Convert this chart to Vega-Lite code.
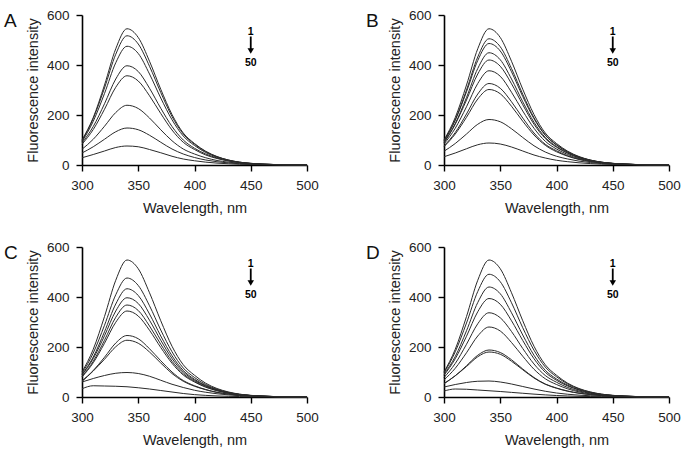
{
"$schema": "https://vega.github.io/schema/vega-lite/v6.json",
"padding": {"left": 4, "top": 8, "right": 5, "bottom": 5},
"background": "#ffffff",
"config": {
 "view": {"stroke": null},
 "font": "Liberation Sans",
 "axis": {"grid": false, "labelFlush": false, "domainColor": "#000", "domainWidth": 1.6, "tickColor": "#000", "tickWidth": 1.4, "tickSize": 6, "labelFontSize": 13.5, "labelColor": "#222", "titleFontSize": 14.5, "titleFontWeight": "normal", "titleColor": "#222", "labelPadding": 7},
 "title": {"fontSize": 19, "fontWeight": "normal", "anchor": "start", "frame": "group", "color": "#111", "offset": 0}
},
"datasets": {
"s": [
{"p":"A","c":1,"w":300,"v":100},{"p":"A","c":1,"w":310,"v":190},{"p":"A","c":1,"w":320,"v":320},{"p":"A","c":1,"w":330,"v":465},{"p":"A","c":1,"w":340,"v":545},{"p":"A","c":1,"w":350,"v":510},{"p":"A","c":1,"w":360,"v":415},{"p":"A","c":1,"w":370,"v":303},{"p":"A","c":1,"w":380,"v":202},{"p":"A","c":1,"w":390,"v":128},{"p":"A","c":1,"w":400,"v":86},{"p":"A","c":1,"w":410,"v":55},{"p":"A","c":1,"w":420,"v":34},{"p":"A","c":1,"w":430,"v":20},{"p":"A","c":1,"w":440,"v":11.4},{"p":"A","c":1,"w":450,"v":6.5},{"p":"A","c":1,"w":470,"v":2},{"p":"A","c":1,"w":500,"v":0.3},
{"p":"A","c":2,"w":300,"v":97},{"p":"A","c":2,"w":310,"v":186},{"p":"A","c":2,"w":320,"v":308},{"p":"A","c":2,"w":330,"v":443},{"p":"A","c":2,"w":340,"v":517},{"p":"A","c":2,"w":350,"v":484},{"p":"A","c":2,"w":360,"v":395},{"p":"A","c":2,"w":370,"v":290},{"p":"A","c":2,"w":380,"v":194},{"p":"A","c":2,"w":390,"v":124},{"p":"A","c":2,"w":400,"v":83},{"p":"A","c":2,"w":410,"v":53},{"p":"A","c":2,"w":420,"v":33},{"p":"A","c":2,"w":430,"v":20},{"p":"A","c":2,"w":440,"v":11.4},{"p":"A","c":2,"w":450,"v":6.7},{"p":"A","c":2,"w":470,"v":2.1},{"p":"A","c":2,"w":500,"v":0.4},
{"p":"A","c":3,"w":300,"v":93},{"p":"A","c":3,"w":310,"v":175},{"p":"A","c":3,"w":320,"v":286},{"p":"A","c":3,"w":330,"v":409},{"p":"A","c":3,"w":340,"v":475},{"p":"A","c":3,"w":350,"v":446},{"p":"A","c":3,"w":360,"v":364},{"p":"A","c":3,"w":370,"v":268},{"p":"A","c":3,"w":380,"v":181},{"p":"A","c":3,"w":390,"v":116},{"p":"A","c":3,"w":400,"v":78},{"p":"A","c":3,"w":410,"v":50},{"p":"A","c":3,"w":420,"v":31},{"p":"A","c":3,"w":430,"v":19},{"p":"A","c":3,"w":440,"v":10.9},{"p":"A","c":3,"w":450,"v":6.2},{"p":"A","c":3,"w":470,"v":2},{"p":"A","c":3,"w":500,"v":0.3},
{"p":"A","c":4,"w":300,"v":88},{"p":"A","c":4,"w":310,"v":154},{"p":"A","c":4,"w":320,"v":245},{"p":"A","c":4,"w":330,"v":344},{"p":"A","c":4,"w":340,"v":397},{"p":"A","c":4,"w":350,"v":374},{"p":"A","c":4,"w":360,"v":307},{"p":"A","c":4,"w":370,"v":227},{"p":"A","c":4,"w":380,"v":154},{"p":"A","c":4,"w":390,"v":100},{"p":"A","c":4,"w":400,"v":67},{"p":"A","c":4,"w":410,"v":44},{"p":"A","c":4,"w":420,"v":28},{"p":"A","c":4,"w":430,"v":17},{"p":"A","c":4,"w":440,"v":10},{"p":"A","c":4,"w":450,"v":6},{"p":"A","c":4,"w":470,"v":2},{"p":"A","c":4,"w":500,"v":0.4},
{"p":"A","c":5,"w":300,"v":83},{"p":"A","c":5,"w":310,"v":142},{"p":"A","c":5,"w":320,"v":223},{"p":"A","c":5,"w":330,"v":311},{"p":"A","c":5,"w":340,"v":357},{"p":"A","c":5,"w":350,"v":336},{"p":"A","c":5,"w":360,"v":277},{"p":"A","c":5,"w":370,"v":206},{"p":"A","c":5,"w":380,"v":140},{"p":"A","c":5,"w":390,"v":91},{"p":"A","c":5,"w":400,"v":62},{"p":"A","c":5,"w":410,"v":40},{"p":"A","c":5,"w":420,"v":26},{"p":"A","c":5,"w":430,"v":16},{"p":"A","c":5,"w":440,"v":9.3},{"p":"A","c":5,"w":450,"v":5.4},{"p":"A","c":5,"w":470,"v":1.9},{"p":"A","c":5,"w":500,"v":0.4},
{"p":"A","c":6,"w":300,"v":63},{"p":"A","c":6,"w":310,"v":103},{"p":"A","c":6,"w":320,"v":155},{"p":"A","c":6,"w":330,"v":210},{"p":"A","c":6,"w":340,"v":239},{"p":"A","c":6,"w":350,"v":226},{"p":"A","c":6,"w":360,"v":188},{"p":"A","c":6,"w":370,"v":141},{"p":"A","c":6,"w":380,"v":97},{"p":"A","c":6,"w":390,"v":64},{"p":"A","c":6,"w":400,"v":44},{"p":"A","c":6,"w":410,"v":29},{"p":"A","c":6,"w":420,"v":18},{"p":"A","c":6,"w":430,"v":11.5},{"p":"A","c":6,"w":440,"v":6.9},{"p":"A","c":6,"w":450,"v":4.1},{"p":"A","c":6,"w":470,"v":1.5},{"p":"A","c":6,"w":500,"v":0.3},
{"p":"A","c":7,"w":300,"v":48},{"p":"A","c":7,"w":310,"v":73},{"p":"A","c":7,"w":320,"v":103},{"p":"A","c":7,"w":330,"v":133},{"p":"A","c":7,"w":340,"v":148},{"p":"A","c":7,"w":350,"v":141},{"p":"A","c":7,"w":360,"v":119},{"p":"A","c":7,"w":370,"v":91},{"p":"A","c":7,"w":380,"v":64},{"p":"A","c":7,"w":390,"v":44},{"p":"A","c":7,"w":400,"v":30},{"p":"A","c":7,"w":410,"v":20},{"p":"A","c":7,"w":420,"v":13},{"p":"A","c":7,"w":430,"v":8.4},{"p":"A","c":7,"w":440,"v":5},{"p":"A","c":7,"w":450,"v":3.1},{"p":"A","c":7,"w":470,"v":1.2},{"p":"A","c":7,"w":500,"v":0.2},
{"p":"A","c":8,"w":300,"v":29},{"p":"A","c":8,"w":310,"v":42},{"p":"A","c":8,"w":320,"v":56},{"p":"A","c":8,"w":330,"v":70},{"p":"A","c":8,"w":340,"v":76},{"p":"A","c":8,"w":350,"v":73},{"p":"A","c":8,"w":360,"v":62},{"p":"A","c":8,"w":370,"v":49},{"p":"A","c":8,"w":380,"v":35},{"p":"A","c":8,"w":390,"v":24},{"p":"A","c":8,"w":400,"v":17},{"p":"A","c":8,"w":410,"v":11.4},{"p":"A","c":8,"w":420,"v":7.6},{"p":"A","c":8,"w":430,"v":4.9},{"p":"A","c":8,"w":440,"v":3},{"p":"A","c":8,"w":450,"v":1.9},{"p":"A","c":8,"w":470,"v":0.8},{"p":"A","c":8,"w":500,"v":0.2},

{"p":"B","c":1,"w":300,"v":100},{"p":"B","c":1,"w":310,"v":190},{"p":"B","c":1,"w":320,"v":320},{"p":"B","c":1,"w":330,"v":465},{"p":"B","c":1,"w":340,"v":545},{"p":"B","c":1,"w":350,"v":510},{"p":"B","c":1,"w":360,"v":415},{"p":"B","c":1,"w":370,"v":303},{"p":"B","c":1,"w":380,"v":202},{"p":"B","c":1,"w":390,"v":128},{"p":"B","c":1,"w":400,"v":86},{"p":"B","c":1,"w":410,"v":55},{"p":"B","c":1,"w":420,"v":34},{"p":"B","c":1,"w":430,"v":20},{"p":"B","c":1,"w":440,"v":11.4},{"p":"B","c":1,"w":450,"v":6.5},{"p":"B","c":1,"w":470,"v":2},{"p":"B","c":1,"w":500,"v":0.3},
{"p":"B","c":2,"w":300,"v":97},{"p":"B","c":2,"w":310,"v":181},{"p":"B","c":2,"w":320,"v":300},{"p":"B","c":2,"w":330,"v":432},{"p":"B","c":2,"w":340,"v":505},{"p":"B","c":2,"w":350,"v":473},{"p":"B","c":2,"w":360,"v":386},{"p":"B","c":2,"w":370,"v":283},{"p":"B","c":2,"w":380,"v":189},{"p":"B","c":2,"w":390,"v":121},{"p":"B","c":2,"w":400,"v":81},{"p":"B","c":2,"w":410,"v":52},{"p":"B","c":2,"w":420,"v":32},{"p":"B","c":2,"w":430,"v":19.2},{"p":"B","c":2,"w":440,"v":11.1},{"p":"B","c":2,"w":450,"v":6.6},{"p":"B","c":2,"w":470,"v":2},{"p":"B","c":2,"w":500,"v":0.4},
{"p":"B","c":3,"w":300,"v":95},{"p":"B","c":3,"w":310,"v":179},{"p":"B","c":3,"w":320,"v":293},{"p":"B","c":3,"w":330,"v":418},{"p":"B","c":3,"w":340,"v":486},{"p":"B","c":3,"w":350,"v":456},{"p":"B","c":3,"w":360,"v":373},{"p":"B","c":3,"w":370,"v":274},{"p":"B","c":3,"w":380,"v":185},{"p":"B","c":3,"w":390,"v":119},{"p":"B","c":3,"w":400,"v":80},{"p":"B","c":3,"w":410,"v":52},{"p":"B","c":3,"w":420,"v":32},{"p":"B","c":3,"w":430,"v":19.4},{"p":"B","c":3,"w":440,"v":11.2},{"p":"B","c":3,"w":450,"v":6.3},{"p":"B","c":3,"w":470,"v":2.1},{"p":"B","c":3,"w":500,"v":0.3},
{"p":"B","c":4,"w":300,"v":91},{"p":"B","c":4,"w":310,"v":166},{"p":"B","c":4,"w":320,"v":270},{"p":"B","c":4,"w":330,"v":386},{"p":"B","c":4,"w":340,"v":449},{"p":"B","c":4,"w":350,"v":421},{"p":"B","c":4,"w":360,"v":344},{"p":"B","c":4,"w":370,"v":253},{"p":"B","c":4,"w":380,"v":171},{"p":"B","c":4,"w":390,"v":110},{"p":"B","c":4,"w":400,"v":74},{"p":"B","c":4,"w":410,"v":48},{"p":"B","c":4,"w":420,"v":30},{"p":"B","c":4,"w":430,"v":18},{"p":"B","c":4,"w":440,"v":10.3},{"p":"B","c":4,"w":450,"v":5.8},{"p":"B","c":4,"w":470,"v":1.9},{"p":"B","c":4,"w":500,"v":0.3},
{"p":"B","c":5,"w":300,"v":88},{"p":"B","c":5,"w":310,"v":163},{"p":"B","c":5,"w":320,"v":260},{"p":"B","c":5,"w":330,"v":364},{"p":"B","c":5,"w":340,"v":420},{"p":"B","c":5,"w":350,"v":395},{"p":"B","c":5,"w":360,"v":325},{"p":"B","c":5,"w":370,"v":241},{"p":"B","c":5,"w":380,"v":163},{"p":"B","c":5,"w":390,"v":106},{"p":"B","c":5,"w":400,"v":71},{"p":"B","c":5,"w":410,"v":47},{"p":"B","c":5,"w":420,"v":29},{"p":"B","c":5,"w":430,"v":18.1},{"p":"B","c":5,"w":440,"v":10.5},{"p":"B","c":5,"w":450,"v":6.3},{"p":"B","c":5,"w":470,"v":2.1},{"p":"B","c":5,"w":500,"v":0.4},
{"p":"B","c":6,"w":300,"v":84},{"p":"B","c":6,"w":310,"v":147},{"p":"B","c":6,"w":320,"v":233},{"p":"B","c":6,"w":330,"v":326},{"p":"B","c":6,"w":340,"v":377},{"p":"B","c":6,"w":350,"v":355},{"p":"B","c":6,"w":360,"v":291},{"p":"B","c":6,"w":370,"v":216},{"p":"B","c":6,"w":380,"v":147},{"p":"B","c":6,"w":390,"v":95},{"p":"B","c":6,"w":400,"v":64},{"p":"B","c":6,"w":410,"v":42},{"p":"B","c":6,"w":420,"v":26},{"p":"B","c":6,"w":430,"v":16.2},{"p":"B","c":6,"w":440,"v":9.4},{"p":"B","c":6,"w":450,"v":5.7},{"p":"B","c":6,"w":470,"v":1.9},{"p":"B","c":6,"w":500,"v":0.3},
{"p":"B","c":7,"w":300,"v":76},{"p":"B","c":7,"w":310,"v":130},{"p":"B","c":7,"w":320,"v":204},{"p":"B","c":7,"w":330,"v":284},{"p":"B","c":7,"w":340,"v":326},{"p":"B","c":7,"w":350,"v":307},{"p":"B","c":7,"w":360,"v":253},{"p":"B","c":7,"w":370,"v":188},{"p":"B","c":7,"w":380,"v":128},{"p":"B","c":7,"w":390,"v":83},{"p":"B","c":7,"w":400,"v":57},{"p":"B","c":7,"w":410,"v":37},{"p":"B","c":7,"w":420,"v":23.5},{"p":"B","c":7,"w":430,"v":14.3},{"p":"B","c":7,"w":440,"v":8.5},{"p":"B","c":7,"w":450,"v":4.9},{"p":"B","c":7,"w":470,"v":1.7},{"p":"B","c":7,"w":500,"v":0.3},
{"p":"B","c":8,"w":300,"v":73},{"p":"B","c":8,"w":310,"v":124},{"p":"B","c":8,"w":320,"v":191},{"p":"B","c":8,"w":330,"v":264},{"p":"B","c":8,"w":340,"v":302},{"p":"B","c":8,"w":350,"v":285},{"p":"B","c":8,"w":360,"v":235},{"p":"B","c":8,"w":370,"v":175},{"p":"B","c":8,"w":380,"v":120},{"p":"B","c":8,"w":390,"v":79},{"p":"B","c":8,"w":400,"v":53},{"p":"B","c":8,"w":410,"v":35},{"p":"B","c":8,"w":420,"v":22},{"p":"B","c":8,"w":430,"v":13.6},{"p":"B","c":8,"w":440,"v":8.2},{"p":"B","c":8,"w":450,"v":4.8},{"p":"B","c":8,"w":470,"v":1.7},{"p":"B","c":8,"w":500,"v":0.3},
{"p":"B","c":9,"w":300,"v":55},{"p":"B","c":9,"w":310,"v":86},{"p":"B","c":9,"w":320,"v":124},{"p":"B","c":9,"w":330,"v":163},{"p":"B","c":9,"w":340,"v":182},{"p":"B","c":9,"w":350,"v":173},{"p":"B","c":9,"w":360,"v":145},{"p":"B","c":9,"w":370,"v":110},{"p":"B","c":9,"w":380,"v":77},{"p":"B","c":9,"w":390,"v":52},{"p":"B","c":9,"w":400,"v":35},{"p":"B","c":9,"w":410,"v":24},{"p":"B","c":9,"w":420,"v":15.5},{"p":"B","c":9,"w":430,"v":9.8},{"p":"B","c":9,"w":440,"v":5.8},{"p":"B","c":9,"w":450,"v":3.6},{"p":"B","c":9,"w":470,"v":1.4},{"p":"B","c":9,"w":500,"v":0.3},
{"p":"B","c":10,"w":300,"v":33},{"p":"B","c":10,"w":310,"v":48},{"p":"B","c":10,"w":320,"v":65},{"p":"B","c":10,"w":330,"v":81},{"p":"B","c":10,"w":340,"v":88},{"p":"B","c":10,"w":350,"v":84},{"p":"B","c":10,"w":360,"v":72},{"p":"B","c":10,"w":370,"v":56},{"p":"B","c":10,"w":380,"v":40},{"p":"B","c":10,"w":390,"v":28},{"p":"B","c":10,"w":400,"v":19},{"p":"B","c":10,"w":410,"v":13.2},{"p":"B","c":10,"w":420,"v":8.8},{"p":"B","c":10,"w":430,"v":5.7},{"p":"B","c":10,"w":440,"v":3.5},{"p":"B","c":10,"w":450,"v":2.2},{"p":"B","c":10,"w":470,"v":0.9},{"p":"B","c":10,"w":500,"v":0.2},

{"p":"C","c":1,"w":300,"v":100},{"p":"C","c":1,"w":310,"v":191},{"p":"C","c":1,"w":320,"v":322},{"p":"C","c":1,"w":330,"v":467},{"p":"C","c":1,"w":340,"v":548},{"p":"C","c":1,"w":350,"v":513},{"p":"C","c":1,"w":360,"v":417},{"p":"C","c":1,"w":370,"v":305},{"p":"C","c":1,"w":380,"v":203},{"p":"C","c":1,"w":390,"v":129},{"p":"C","c":1,"w":400,"v":87},{"p":"C","c":1,"w":410,"v":55},{"p":"C","c":1,"w":420,"v":34},{"p":"C","c":1,"w":430,"v":20.3},{"p":"C","c":1,"w":440,"v":11.5},{"p":"C","c":1,"w":450,"v":6.6},{"p":"C","c":1,"w":470,"v":2},{"p":"C","c":1,"w":500,"v":0.3},
{"p":"C","c":2,"w":300,"v":95},{"p":"C","c":2,"w":310,"v":176},{"p":"C","c":2,"w":320,"v":287},{"p":"C","c":2,"w":330,"v":409},{"p":"C","c":2,"w":340,"v":476},{"p":"C","c":2,"w":350,"v":446},{"p":"C","c":2,"w":360,"v":365},{"p":"C","c":2,"w":370,"v":268},{"p":"C","c":2,"w":380,"v":181},{"p":"C","c":2,"w":390,"v":116},{"p":"C","c":2,"w":400,"v":78},{"p":"C","c":2,"w":410,"v":50},{"p":"C","c":2,"w":420,"v":31},{"p":"C","c":2,"w":430,"v":19},{"p":"C","c":2,"w":440,"v":10.9},{"p":"C","c":2,"w":450,"v":6.2},{"p":"C","c":2,"w":470,"v":2},{"p":"C","c":2,"w":500,"v":0.3},
{"p":"C","c":3,"w":300,"v":90},{"p":"C","c":3,"w":310,"v":160},{"p":"C","c":3,"w":320,"v":261},{"p":"C","c":3,"w":330,"v":372},{"p":"C","c":3,"w":340,"v":433},{"p":"C","c":3,"w":350,"v":406},{"p":"C","c":3,"w":360,"v":332},{"p":"C","c":3,"w":370,"v":244},{"p":"C","c":3,"w":380,"v":165},{"p":"C","c":3,"w":390,"v":106},{"p":"C","c":3,"w":400,"v":71},{"p":"C","c":3,"w":410,"v":46},{"p":"C","c":3,"w":420,"v":29},{"p":"C","c":3,"w":430,"v":17.3},{"p":"C","c":3,"w":440,"v":10},{"p":"C","c":3,"w":450,"v":5.6},{"p":"C","c":3,"w":470,"v":1.9},{"p":"C","c":3,"w":500,"v":0.3},
{"p":"C","c":4,"w":300,"v":88},{"p":"C","c":4,"w":310,"v":154},{"p":"C","c":4,"w":320,"v":245},{"p":"C","c":4,"w":330,"v":344},{"p":"C","c":4,"w":340,"v":397},{"p":"C","c":4,"w":350,"v":374},{"p":"C","c":4,"w":360,"v":307},{"p":"C","c":4,"w":370,"v":227},{"p":"C","c":4,"w":380,"v":154},{"p":"C","c":4,"w":390,"v":100},{"p":"C","c":4,"w":400,"v":67},{"p":"C","c":4,"w":410,"v":44},{"p":"C","c":4,"w":420,"v":28},{"p":"C","c":4,"w":430,"v":17},{"p":"C","c":4,"w":440,"v":10},{"p":"C","c":4,"w":450,"v":6},{"p":"C","c":4,"w":470,"v":2},{"p":"C","c":4,"w":500,"v":0.4},
{"p":"C","c":5,"w":300,"v":82},{"p":"C","c":5,"w":310,"v":143},{"p":"C","c":5,"w":320,"v":227},{"p":"C","c":5,"w":330,"v":319},{"p":"C","c":5,"w":340,"v":368},{"p":"C","c":5,"w":350,"v":346},{"p":"C","c":5,"w":360,"v":284},{"p":"C","c":5,"w":370,"v":211},{"p":"C","c":5,"w":380,"v":143},{"p":"C","c":5,"w":390,"v":93},{"p":"C","c":5,"w":400,"v":63},{"p":"C","c":5,"w":410,"v":41},{"p":"C","c":5,"w":420,"v":26},{"p":"C","c":5,"w":430,"v":15.8},{"p":"C","c":5,"w":440,"v":9.2},{"p":"C","c":5,"w":450,"v":5.5},{"p":"C","c":5,"w":470,"v":1.8},{"p":"C","c":5,"w":500,"v":0.3},
{"p":"C","c":6,"w":300,"v":80},{"p":"C","c":6,"w":310,"v":137},{"p":"C","c":6,"w":320,"v":215},{"p":"C","c":6,"w":330,"v":299},{"p":"C","c":6,"w":340,"v":344},{"p":"C","c":6,"w":350,"v":324},{"p":"C","c":6,"w":360,"v":267},{"p":"C","c":6,"w":370,"v":198},{"p":"C","c":6,"w":380,"v":135},{"p":"C","c":6,"w":390,"v":88},{"p":"C","c":6,"w":400,"v":60},{"p":"C","c":6,"w":410,"v":39},{"p":"C","c":6,"w":420,"v":25},{"p":"C","c":6,"w":430,"v":15.1},{"p":"C","c":6,"w":440,"v":8.9},{"p":"C","c":6,"w":450,"v":5.2},{"p":"C","c":6,"w":470,"v":1.8},{"p":"C","c":6,"w":500,"v":0.3},
{"p":"C","c":7,"w":300,"v":65},{"p":"C","c":7,"w":310,"v":106},{"p":"C","c":7,"w":320,"v":159},{"p":"C","c":7,"w":330,"v":216},{"p":"C","c":7,"w":340,"v":246},{"p":"C","c":7,"w":350,"v":233},{"p":"C","c":7,"w":360,"v":193},{"p":"C","c":7,"w":370,"v":145},{"p":"C","c":7,"w":380,"v":100},{"p":"C","c":7,"w":390,"v":66},{"p":"C","c":7,"w":400,"v":45},{"p":"C","c":7,"w":410,"v":30},{"p":"C","c":7,"w":420,"v":19},{"p":"C","c":7,"w":430,"v":11.8},{"p":"C","c":7,"w":440,"v":7.1},{"p":"C","c":7,"w":450,"v":4.2},{"p":"C","c":7,"w":470,"v":1.5},{"p":"C","c":7,"w":500,"v":0.3},
{"p":"C","c":8,"w":300,"v":62},{"p":"C","c":8,"w":310,"v":104},{"p":"C","c":8,"w":320,"v":151},{"p":"C","c":8,"w":330,"v":201},{"p":"C","c":8,"w":340,"v":227},{"p":"C","c":8,"w":350,"v":215},{"p":"C","c":8,"w":360,"v":180},{"p":"C","c":8,"w":370,"v":136},{"p":"C","c":8,"w":380,"v":94},{"p":"C","c":8,"w":390,"v":63},{"p":"C","c":8,"w":400,"v":43},{"p":"C","c":8,"w":410,"v":29},{"p":"C","c":8,"w":420,"v":18},{"p":"C","c":8,"w":430,"v":11.6},{"p":"C","c":8,"w":440,"v":7},{"p":"C","c":8,"w":450,"v":4.3},{"p":"C","c":8,"w":470,"v":1.6},{"p":"C","c":8,"w":500,"v":0.3},
{"p":"C","c":9,"w":300,"v":60},{"p":"C","c":9,"w":310,"v":74},{"p":"C","c":9,"w":320,"v":86},{"p":"C","c":9,"w":330,"v":95},{"p":"C","c":9,"w":340,"v":98},{"p":"C","c":9,"w":350,"v":94},{"p":"C","c":9,"w":360,"v":83},{"p":"C","c":9,"w":370,"v":67},{"p":"C","c":9,"w":380,"v":51},{"p":"C","c":9,"w":390,"v":38},{"p":"C","c":9,"w":400,"v":27},{"p":"C","c":9,"w":410,"v":19},{"p":"C","c":9,"w":420,"v":13},{"p":"C","c":9,"w":430,"v":8.5},{"p":"C","c":9,"w":440,"v":5.5},{"p":"C","c":9,"w":450,"v":3.5},{"p":"C","c":9,"w":470,"v":1.3},{"p":"C","c":9,"w":500,"v":0.3},
{"p":"C","c":10,"w":300,"v":33},{"p":"C","c":10,"w":310,"v":45},{"p":"C","c":10,"w":320,"v":44},{"p":"C","c":10,"w":330,"v":43},{"p":"C","c":10,"w":340,"v":41},{"p":"C","c":10,"w":350,"v":37},{"p":"C","c":10,"w":360,"v":32},{"p":"C","c":10,"w":370,"v":26},{"p":"C","c":10,"w":380,"v":20},{"p":"C","c":10,"w":390,"v":14},{"p":"C","c":10,"w":400,"v":9.5},{"p":"C","c":10,"w":410,"v":6.5},{"p":"C","c":10,"w":420,"v":4.3},{"p":"C","c":10,"w":430,"v":2.8},{"p":"C","c":10,"w":440,"v":1.8},{"p":"C","c":10,"w":450,"v":1.1},{"p":"C","c":10,"w":470,"v":0.4},{"p":"C","c":10,"w":500,"v":0.1},

{"p":"D","c":1,"w":300,"v":100},{"p":"D","c":1,"w":310,"v":191},{"p":"D","c":1,"w":320,"v":322},{"p":"D","c":1,"w":330,"v":467},{"p":"D","c":1,"w":340,"v":548},{"p":"D","c":1,"w":350,"v":513},{"p":"D","c":1,"w":360,"v":417},{"p":"D","c":1,"w":370,"v":305},{"p":"D","c":1,"w":380,"v":203},{"p":"D","c":1,"w":390,"v":129},{"p":"D","c":1,"w":400,"v":87},{"p":"D","c":1,"w":410,"v":55},{"p":"D","c":1,"w":420,"v":34},{"p":"D","c":1,"w":430,"v":20.3},{"p":"D","c":1,"w":440,"v":11.5},{"p":"D","c":1,"w":450,"v":6.6},{"p":"D","c":1,"w":470,"v":2},{"p":"D","c":1,"w":500,"v":0.3},
{"p":"D","c":2,"w":300,"v":96},{"p":"D","c":2,"w":310,"v":181},{"p":"D","c":2,"w":320,"v":296},{"p":"D","c":2,"w":330,"v":422},{"p":"D","c":2,"w":340,"v":491},{"p":"D","c":2,"w":350,"v":461},{"p":"D","c":2,"w":360,"v":377},{"p":"D","c":2,"w":370,"v":277},{"p":"D","c":2,"w":380,"v":187},{"p":"D","c":2,"w":390,"v":120},{"p":"D","c":2,"w":400,"v":81},{"p":"D","c":2,"w":410,"v":52},{"p":"D","c":2,"w":420,"v":32},{"p":"D","c":2,"w":430,"v":19.6},{"p":"D","c":2,"w":440,"v":11.3},{"p":"D","c":2,"w":450,"v":6.4},{"p":"D","c":2,"w":470,"v":2.1},{"p":"D","c":2,"w":500,"v":0.3},
{"p":"D","c":3,"w":300,"v":91},{"p":"D","c":3,"w":310,"v":162},{"p":"D","c":3,"w":320,"v":265},{"p":"D","c":3,"w":330,"v":378},{"p":"D","c":3,"w":340,"v":440},{"p":"D","c":3,"w":350,"v":413},{"p":"D","c":3,"w":360,"v":337},{"p":"D","c":3,"w":370,"v":248},{"p":"D","c":3,"w":380,"v":167},{"p":"D","c":3,"w":390,"v":107},{"p":"D","c":3,"w":400,"v":72},{"p":"D","c":3,"w":410,"v":47},{"p":"D","c":3,"w":420,"v":29},{"p":"D","c":3,"w":430,"v":17.6},{"p":"D","c":3,"w":440,"v":10.1},{"p":"D","c":3,"w":450,"v":5.7},{"p":"D","c":3,"w":470,"v":1.9},{"p":"D","c":3,"w":500,"v":0.3},
{"p":"D","c":4,"w":300,"v":87},{"p":"D","c":4,"w":310,"v":153},{"p":"D","c":4,"w":320,"v":243},{"p":"D","c":4,"w":330,"v":341},{"p":"D","c":4,"w":340,"v":394},{"p":"D","c":4,"w":350,"v":371},{"p":"D","c":4,"w":360,"v":305},{"p":"D","c":4,"w":370,"v":226},{"p":"D","c":4,"w":380,"v":153},{"p":"D","c":4,"w":390,"v":99},{"p":"D","c":4,"w":400,"v":67},{"p":"D","c":4,"w":410,"v":44},{"p":"D","c":4,"w":420,"v":28},{"p":"D","c":4,"w":430,"v":16.9},{"p":"D","c":4,"w":440,"v":9.9},{"p":"D","c":4,"w":450,"v":5.9},{"p":"D","c":4,"w":470,"v":2},{"p":"D","c":4,"w":500,"v":0.4},
{"p":"D","c":5,"w":300,"v":78},{"p":"D","c":5,"w":310,"v":134},{"p":"D","c":5,"w":320,"v":211},{"p":"D","c":5,"w":330,"v":293},{"p":"D","c":5,"w":340,"v":337},{"p":"D","c":5,"w":350,"v":317},{"p":"D","c":5,"w":360,"v":262},{"p":"D","c":5,"w":370,"v":194},{"p":"D","c":5,"w":380,"v":132},{"p":"D","c":5,"w":390,"v":86},{"p":"D","c":5,"w":400,"v":59},{"p":"D","c":5,"w":410,"v":38},{"p":"D","c":5,"w":420,"v":24},{"p":"D","c":5,"w":430,"v":14.8},{"p":"D","c":5,"w":440,"v":8.8},{"p":"D","c":5,"w":450,"v":5.1},{"p":"D","c":5,"w":470,"v":1.8},{"p":"D","c":5,"w":500,"v":0.3},
{"p":"D","c":6,"w":300,"v":68},{"p":"D","c":6,"w":310,"v":115},{"p":"D","c":6,"w":320,"v":177},{"p":"D","c":6,"w":330,"v":244},{"p":"D","c":6,"w":340,"v":280},{"p":"D","c":6,"w":350,"v":264},{"p":"D","c":6,"w":360,"v":218},{"p":"D","c":6,"w":370,"v":163},{"p":"D","c":6,"w":380,"v":111},{"p":"D","c":6,"w":390,"v":73},{"p":"D","c":6,"w":400,"v":50},{"p":"D","c":6,"w":410,"v":32.5},{"p":"D","c":6,"w":420,"v":20.4},{"p":"D","c":6,"w":430,"v":12.6},{"p":"D","c":6,"w":440,"v":7.6},{"p":"D","c":6,"w":450,"v":4.5},{"p":"D","c":6,"w":470,"v":1.6},{"p":"D","c":6,"w":500,"v":0.3},
{"p":"D","c":7,"w":300,"v":53},{"p":"D","c":7,"w":310,"v":85},{"p":"D","c":7,"w":320,"v":125},{"p":"D","c":7,"w":330,"v":167},{"p":"D","c":7,"w":340,"v":188},{"p":"D","c":7,"w":350,"v":178},{"p":"D","c":7,"w":360,"v":149},{"p":"D","c":7,"w":370,"v":112},{"p":"D","c":7,"w":380,"v":78},{"p":"D","c":7,"w":390,"v":52},{"p":"D","c":7,"w":400,"v":36},{"p":"D","c":7,"w":410,"v":24},{"p":"D","c":7,"w":420,"v":15.2},{"p":"D","c":7,"w":430,"v":9.6},{"p":"D","c":7,"w":440,"v":5.8},{"p":"D","c":7,"w":450,"v":3.6},{"p":"D","c":7,"w":470,"v":1.3},{"p":"D","c":7,"w":500,"v":0.2},
{"p":"D","c":8,"w":300,"v":54},{"p":"D","c":8,"w":310,"v":85},{"p":"D","c":8,"w":320,"v":122},{"p":"D","c":8,"w":330,"v":161},{"p":"D","c":8,"w":340,"v":180},{"p":"D","c":8,"w":350,"v":171},{"p":"D","c":8,"w":360,"v":143},{"p":"D","c":8,"w":370,"v":109},{"p":"D","c":8,"w":380,"v":76},{"p":"D","c":8,"w":390,"v":51},{"p":"D","c":8,"w":400,"v":35},{"p":"D","c":8,"w":410,"v":23},{"p":"D","c":8,"w":420,"v":15.3},{"p":"D","c":8,"w":430,"v":9.7},{"p":"D","c":8,"w":440,"v":5.8},{"p":"D","c":8,"w":450,"v":3.6},{"p":"D","c":8,"w":470,"v":1.4},{"p":"D","c":8,"w":500,"v":0.3},
{"p":"D","c":9,"w":300,"v":40},{"p":"D","c":9,"w":310,"v":50},{"p":"D","c":9,"w":320,"v":58},{"p":"D","c":9,"w":330,"v":63},{"p":"D","c":9,"w":340,"v":64},{"p":"D","c":9,"w":350,"v":60},{"p":"D","c":9,"w":360,"v":52},{"p":"D","c":9,"w":370,"v":42},{"p":"D","c":9,"w":380,"v":32},{"p":"D","c":9,"w":390,"v":23},{"p":"D","c":9,"w":400,"v":16},{"p":"D","c":9,"w":410,"v":11},{"p":"D","c":9,"w":420,"v":7.5},{"p":"D","c":9,"w":430,"v":5},{"p":"D","c":9,"w":440,"v":3.2},{"p":"D","c":9,"w":450,"v":2},{"p":"D","c":9,"w":470,"v":0.8},{"p":"D","c":9,"w":500,"v":0.2},
{"p":"D","c":10,"w":300,"v":24},{"p":"D","c":10,"w":310,"v":32},{"p":"D","c":10,"w":320,"v":31},{"p":"D","c":10,"w":330,"v":28},{"p":"D","c":10,"w":340,"v":25},{"p":"D","c":10,"w":350,"v":22},{"p":"D","c":10,"w":360,"v":18.5},{"p":"D","c":10,"w":370,"v":15},{"p":"D","c":10,"w":380,"v":11.5},{"p":"D","c":10,"w":390,"v":8.5},{"p":"D","c":10,"w":400,"v":6},{"p":"D","c":10,"w":410,"v":4},{"p":"D","c":10,"w":420,"v":2.7},{"p":"D","c":10,"w":430,"v":1.8},{"p":"D","c":10,"w":440,"v":1.1},{"p":"D","c":10,"w":450,"v":0.7},{"p":"D","c":10,"w":470,"v":0.3},{"p":"D","c":10,"w":500,"v":0.1}
]
},
"columns": 2,
"spacing": {"row": 25, "column": 47},
"concat": [
{"title": {"text": "A", "dx": -78, "dy": 27},
 "width": 225, "height": 150,
 "layer": [
  {"data": {"name": "s"}, "transform": [{"filter": "datum.p === 'A'"}],
   "mark": {"type": "line", "interpolate": "monotone", "color": "#2a2a2a", "strokeWidth": 1},
   "encoding": {
    "x": {"field": "w", "type": "quantitative", "scale": {"domain": [300, 500], "nice": false}, "axis": {"values": [300, 350, 400, 450, 500], "title": "Wavelength, nm", "titlePadding": 10}},
    "y": {"field": "v", "type": "quantitative", "scale": {"domain": [0, 600], "nice": false}, "axis": {"values": [0, 200, 400, 600], "title": "Fluorescence intensity", "titlePadding": 6}},
    "detail": {"field": "c", "type": "nominal"}}},
  {"data": {"values": [{}]}, "mark": {"type": "rule", "color": "#000", "strokeWidth": 1.8}, "encoding": {"x": {"datum": 450}, "y": {"datum": 514}, "y2": {"datum": 462}}},
  {"data": {"values": [{}]}, "mark": {"type": "point", "shape": "triangle-down", "filled": true, "color": "#000", "size": 42, "opacity": 1}, "encoding": {"x": {"datum": 450}, "y": {"datum": 456}}},
  {"data": {"values": [{}]}, "mark": {"type": "text", "fontSize": 10.5, "fontWeight": "bold", "color": "#000"}, "encoding": {"x": {"datum": 450}, "y": {"datum": 533}, "text": {"value": "1"}}},
  {"data": {"values": [{}]}, "mark": {"type": "text", "fontSize": 10.5, "fontWeight": "bold", "color": "#000"}, "encoding": {"x": {"datum": 450}, "y": {"datum": 408}, "text": {"value": "50"}}}
 ]},
{"title": {"text": "B", "dx": -78, "dy": 27},
 "width": 225, "height": 150,
 "layer": [
  {"data": {"name": "s"}, "transform": [{"filter": "datum.p === 'B'"}],
   "mark": {"type": "line", "interpolate": "monotone", "color": "#2a2a2a", "strokeWidth": 1},
   "encoding": {
    "x": {"field": "w", "type": "quantitative", "scale": {"domain": [300, 500], "nice": false}, "axis": {"values": [300, 350, 400, 450, 500], "title": "Wavelength, nm", "titlePadding": 10}},
    "y": {"field": "v", "type": "quantitative", "scale": {"domain": [0, 600], "nice": false}, "axis": {"values": [0, 200, 400, 600], "title": "Fluorescence intensity", "titlePadding": 6}},
    "detail": {"field": "c", "type": "nominal"}}},
  {"data": {"values": [{}]}, "mark": {"type": "rule", "color": "#000", "strokeWidth": 1.8}, "encoding": {"x": {"datum": 450}, "y": {"datum": 514}, "y2": {"datum": 462}}},
  {"data": {"values": [{}]}, "mark": {"type": "point", "shape": "triangle-down", "filled": true, "color": "#000", "size": 42, "opacity": 1}, "encoding": {"x": {"datum": 450}, "y": {"datum": 456}}},
  {"data": {"values": [{}]}, "mark": {"type": "text", "fontSize": 10.5, "fontWeight": "bold", "color": "#000"}, "encoding": {"x": {"datum": 450}, "y": {"datum": 533}, "text": {"value": "1"}}},
  {"data": {"values": [{}]}, "mark": {"type": "text", "fontSize": 10.5, "fontWeight": "bold", "color": "#000"}, "encoding": {"x": {"datum": 450}, "y": {"datum": 408}, "text": {"value": "50"}}}
 ]},
{"title": {"text": "C", "dx": -78, "dy": 27},
 "width": 225, "height": 150,
 "layer": [
  {"data": {"name": "s"}, "transform": [{"filter": "datum.p === 'C'"}],
   "mark": {"type": "line", "interpolate": "monotone", "color": "#2a2a2a", "strokeWidth": 1},
   "encoding": {
    "x": {"field": "w", "type": "quantitative", "scale": {"domain": [300, 500], "nice": false}, "axis": {"values": [300, 350, 400, 450, 500], "title": "Wavelength, nm", "titlePadding": 10}},
    "y": {"field": "v", "type": "quantitative", "scale": {"domain": [0, 600], "nice": false}, "axis": {"values": [0, 200, 400, 600], "title": "Fluorescence intensity", "titlePadding": 6}},
    "detail": {"field": "c", "type": "nominal"}}},
  {"data": {"values": [{}]}, "mark": {"type": "rule", "color": "#000", "strokeWidth": 1.8}, "encoding": {"x": {"datum": 450}, "y": {"datum": 514}, "y2": {"datum": 462}}},
  {"data": {"values": [{}]}, "mark": {"type": "point", "shape": "triangle-down", "filled": true, "color": "#000", "size": 42, "opacity": 1}, "encoding": {"x": {"datum": 450}, "y": {"datum": 456}}},
  {"data": {"values": [{}]}, "mark": {"type": "text", "fontSize": 10.5, "fontWeight": "bold", "color": "#000"}, "encoding": {"x": {"datum": 450}, "y": {"datum": 533}, "text": {"value": "1"}}},
  {"data": {"values": [{}]}, "mark": {"type": "text", "fontSize": 10.5, "fontWeight": "bold", "color": "#000"}, "encoding": {"x": {"datum": 450}, "y": {"datum": 408}, "text": {"value": "50"}}}
 ]},
{"title": {"text": "D", "dx": -78, "dy": 27},
 "width": 225, "height": 150,
 "layer": [
  {"data": {"name": "s"}, "transform": [{"filter": "datum.p === 'D'"}],
   "mark": {"type": "line", "interpolate": "monotone", "color": "#2a2a2a", "strokeWidth": 1},
   "encoding": {
    "x": {"field": "w", "type": "quantitative", "scale": {"domain": [300, 500], "nice": false}, "axis": {"values": [300, 350, 400, 450, 500], "title": "Wavelength, nm", "titlePadding": 10}},
    "y": {"field": "v", "type": "quantitative", "scale": {"domain": [0, 600], "nice": false}, "axis": {"values": [0, 200, 400, 600], "title": "Fluorescence intensity", "titlePadding": 6}},
    "detail": {"field": "c", "type": "nominal"}}},
  {"data": {"values": [{}]}, "mark": {"type": "rule", "color": "#000", "strokeWidth": 1.8}, "encoding": {"x": {"datum": 450}, "y": {"datum": 514}, "y2": {"datum": 462}}},
  {"data": {"values": [{}]}, "mark": {"type": "point", "shape": "triangle-down", "filled": true, "color": "#000", "size": 42, "opacity": 1}, "encoding": {"x": {"datum": 450}, "y": {"datum": 456}}},
  {"data": {"values": [{}]}, "mark": {"type": "text", "fontSize": 10.5, "fontWeight": "bold", "color": "#000"}, "encoding": {"x": {"datum": 450}, "y": {"datum": 533}, "text": {"value": "1"}}},
  {"data": {"values": [{}]}, "mark": {"type": "text", "fontSize": 10.5, "fontWeight": "bold", "color": "#000"}, "encoding": {"x": {"datum": 450}, "y": {"datum": 408}, "text": {"value": "50"}}}
 ]}
]
}
